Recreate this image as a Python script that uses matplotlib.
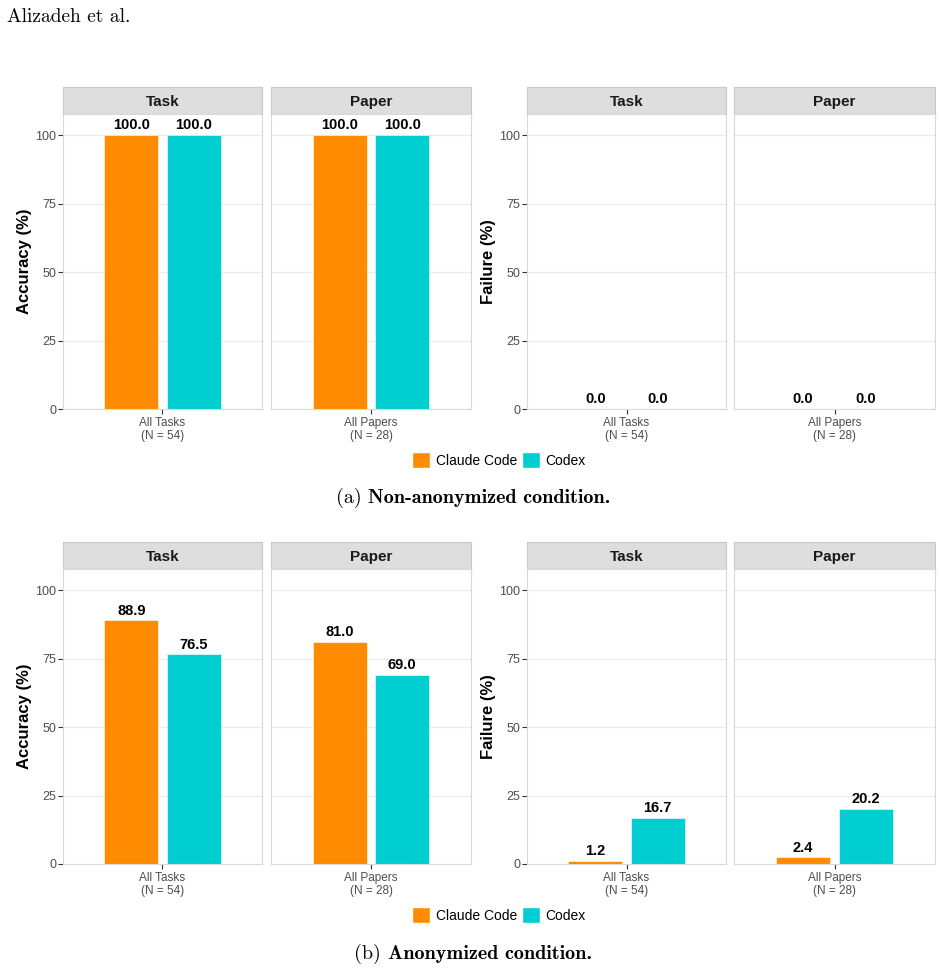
import matplotlib
matplotlib.use('Agg')
import matplotlib.pyplot as plt
from matplotlib.patches import Patch
from matplotlib.offsetbox import TextArea, HPacker, AnchoredOffsetbox

plt.rcParams['font.family'] = ['Liberation Sans', 'DejaVu Sans']

facets = ["Task", "Paper"]
xlabels = ["All Tasks\n(N = 54)", "All Papers\n(N = 28)"]
agents = ["Claude Code", "Codex"]
colors = ["#FF8C00", "#00CED1"]

# condition (a): non-anonymized
acc_a_claude = [100.0, 100.0]
acc_a_codex = [100.0, 100.0]
fail_a_claude = [0.0, 0.0]
fail_a_codex = [0.0, 0.0]
# condition (b): anonymized
acc_b_claude = [88.9, 81.0]
acc_b_codex = [76.5, 69.0]
fail_b_claude = [1.2, 2.4]
fail_b_codex = [16.7, 20.2]

W, H = 941, 971
fig = plt.figure(figsize=(W / 100, H / 100), dpi=100)


def px(x0, y0, x1, y1):
    return [x0 / W, 1 - y1 / H, (x1 - x0) / W, (y1 - y0) / H]


def panel(x0, x1, ytop, ybot, facet, xlabel, vals, ylabel=None, show_y=False):
    strip = fig.add_axes(px(x0, ytop - 27, x1, ytop))
    strip.set_facecolor("#DEDEDE")
    strip.set_xticks([]); strip.set_yticks([])
    for s in strip.spines.values():
        s.set_color("#C8C8C8"); s.set_linewidth(0.8)
    strip.text(0.5, 0.45, facet, ha="center", va="center", fontsize=11,
               fontweight="bold", color="#1A1A1A", transform=strip.transAxes)

    ax = fig.add_axes(px(x0, ytop, x1, ybot))
    ax.set_xlim(0.4, 1.6)
    ax.set_ylim(0, 107.7)
    ax.set_yticks([0, 25, 50, 75, 100])
    ax.grid(axis="y", color="#EBEBEB", linewidth=0.9)
    ax.set_axisbelow(True)
    for s in ax.spines.values():
        s.set_color("#D9D9D9"); s.set_linewidth(0.8)
    ax.set_xticks([1])
    ax.set_xticklabels([xlabel], fontsize=8.5, color="#4D4D4D", linespacing=1.2)
    ax.tick_params(length=3.5, color="#333333", width=0.8, pad=2)
    if show_y:
        ax.tick_params(axis="y", labelsize=9, labelcolor="#4D4D4D", pad=1.5)
        ax.set_ylabel(ylabel, fontsize=12, fontweight="bold", labelpad=2)
    else:
        ax.tick_params(axis="y", left=False, labelleft=False)
    for i, (v, c) in enumerate(zip(vals, colors)):
        xpos = 1 + (i - 0.5) * 0.375
        ax.bar(xpos, v, width=0.325, color=c, edgecolor="white", linewidth=0.4)
        ax.annotate(f"{v:.1f}", (xpos, v), xytext=(0, 2), textcoords="offset points",
                    ha="center", va="bottom", fontsize=10.5, fontweight="bold")
    return ax


rows = [
    (114, 409, (acc_a_claude, acc_a_codex), (fail_a_claude, fail_a_codex)),
    (569, 864, (acc_b_claude, acc_b_codex), (fail_b_claude, fail_b_codex)),
]
left_x = [(63, 262), (271, 471)]
right_x = [(527, 726), (734, 935)]

for ytop, ybot, acc, fail in rows:
    for j in range(2):
        panel(*left_x[j], ytop, ybot, facets[j], xlabels[j],
              [acc[0][j], acc[1][j]], "Accuracy (%)", show_y=(j == 0))
        panel(*right_x[j], ytop, ybot, facets[j], xlabels[j],
              [fail[0][j], fail[1][j]], "Failure (%)", show_y=(j == 0))

handles = [Patch(facecolor=c, edgecolor="white", label=a) for a, c in zip(agents, colors)]
for yc in (460, 915):
    fig.legend(handles=handles, loc="center", bbox_to_anchor=(499 / W, 1 - yc / H),
               ncol=2, frameon=False, fontsize=10, handlelength=1.3, handleheight=1.3,
               handletextpad=0.4, columnspacing=0.35, borderpad=0)

fig.text(7 / W, 1 - 17 / H, "Alizadeh et al.", family="cmr10", fontsize=14,
         ha="left", va="center")


def caption(tag, body, yc):
    box = HPacker(children=[TextArea(tag, textprops=dict(family="cmr10", fontsize=14.5)),
                            TextArea(body, textprops=dict(family="cmb10", fontsize=14.5))],
                  align="baseline", pad=0, sep=5)
    ab = AnchoredOffsetbox(loc="center", child=box, frameon=False, pad=0, borderpad=0,
                           bbox_to_anchor=(473 / W, 1 - yc / H),
                           bbox_transform=fig.transFigure)
    fig.add_artist(ab)


caption("(a)", "Non-anonymized condition.", 498)
caption("(b)", "Anonymized condition.", 954)

fig.savefig("out.png", dpi=100)
